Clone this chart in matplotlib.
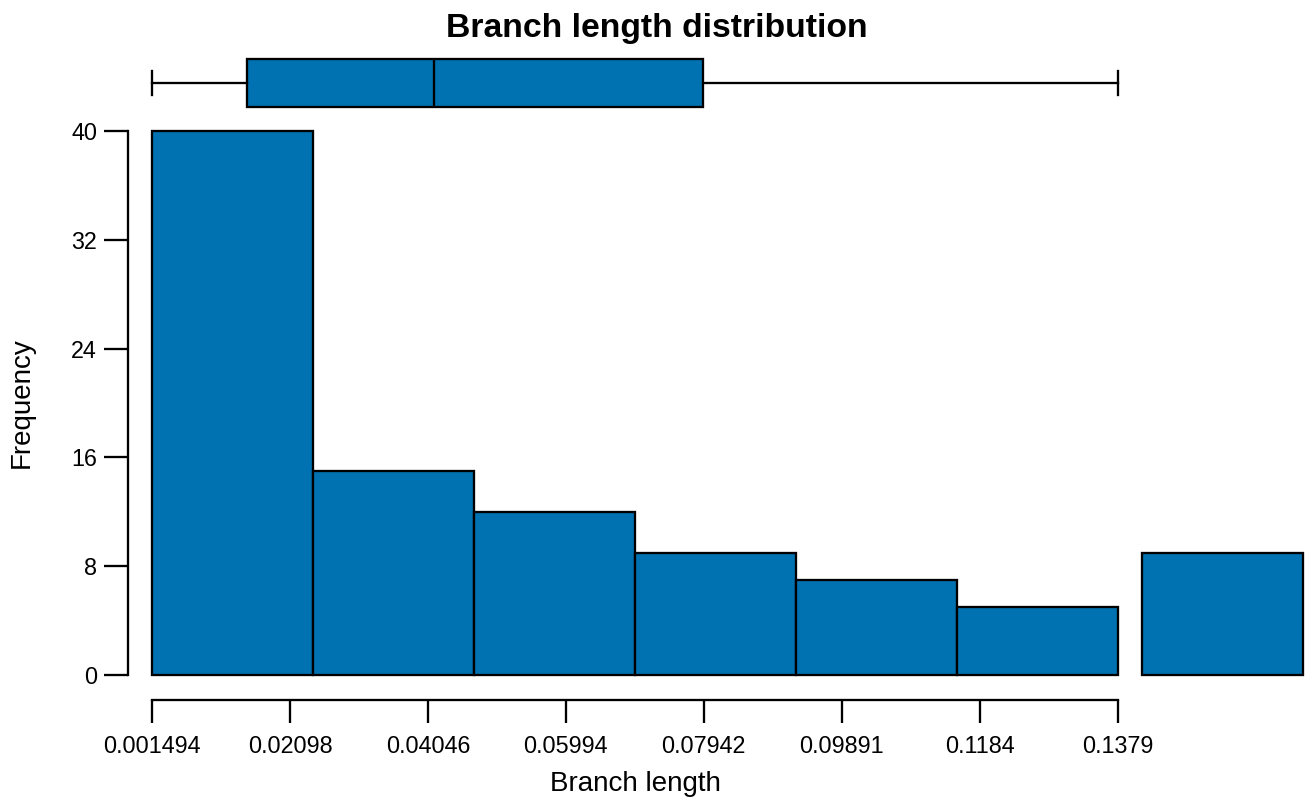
import numpy as np
import matplotlib
matplotlib.use("Agg")
import matplotlib.pyplot as plt

plt.rcParams['font.family'] = ['Liberation Sans', 'DejaVu Sans']

# histogram data
lo = 0.001494
hi = 0.1379
counts = [40, 15, 12, 9, 7, 5]
outlier_count = 9
tick_vals = [0.001494, 0.02098, 0.04046, 0.05994, 0.07942, 0.09891, 0.1184, 0.1379]
tick_labels = ['0.001494', '0.02098', '0.04046', '0.05994', '0.07942', '0.09891', '0.1184', '0.1379']
y_ticks = [0, 8, 16, 24, 32, 40]

# boxplot summary
box_stats = dict(whislo=0.001494, q1=0.0149, med=0.0413, q3=0.0793, whishi=0.1379)

blue = '#0072B2'
W, H = 1306, 798
dpi = 100
px = 72 / dpi  # points per pixel
lw = 2.3 * px

fig = plt.figure(figsize=(W / dpi, H / dpi), dpi=dpi)

edges = np.linspace(lo, hi, len(counts) + 1)
binw = edges[1] - edges[0]
out_left = hi + 0.15 * binw
x_right = out_left + binw

# main histogram axes (pixel layout from reference)
ax = fig.add_axes([152 / W, (H - 675) / H, 1151 / W, 544 / H])
ax.bar(edges[:-1], counts, width=binw, align='edge', color=blue,
       edgecolor='black', linewidth=lw, clip_on=False)
ax.bar([out_left], [outlier_count], width=binw, align='edge', color=blue,
       edgecolor='black', linewidth=lw, clip_on=False)
ax.set_xlim(lo, x_right)
ax.set_ylim(0, 40)

for s in ['top', 'right']:
    ax.spines[s].set_visible(False)
ax.spines['left'].set_position(('outward', 24 * px))
ax.spines['bottom'].set_position(('outward', 25 * px))
ax.spines['left'].set_bounds(0, 40)
ax.spines['bottom'].set_bounds(lo, hi)
for s in ['left', 'bottom']:
    ax.spines[s].set_linewidth(lw)

ax.set_yticks(y_ticks)
ax.set_xticks(tick_vals)
ax.set_xticklabels(tick_labels)
ax.tick_params(axis='y', length=24 * px, width=lw, pad=7 * px, labelsize=16.8)
ax.tick_params(axis='x', length=23 * px, width=lw, pad=12 * px, labelsize=16.8)

# boxplot strip on top
bax = fig.add_axes([152 / W, (H - 107) / H, 1151 / W, 48 / H])
bax.bxp([box_stats], positions=[0], widths=1.0, capwidths=0.5, vert=False,
        showfliers=False, patch_artist=True,
        boxprops=dict(facecolor=blue, edgecolor='black', linewidth=lw),
        medianprops=dict(color='black', linewidth=lw),
        whiskerprops=dict(color='black', linewidth=lw),
        capprops=dict(color='black', linewidth=lw))
bax.set_xlim(lo, x_right)
bax.set_ylim(-0.5, 0.5)
bax.axis('off')
for a in bax.patches + bax.lines:
    a.set_clip_on(False)

fig.text(657 / W, 1 - 28 / H, 'Branch length distribution', ha='center', va='center',
         fontsize=24.3, fontweight='bold')
fig.text(635 / W, 1 - 784 / H, 'Branch length', ha='center', va='center', fontsize=20)
fig.text(22 / W, 1 - 403 / H, 'Frequency', ha='center', va='center', fontsize=20,
         rotation=90)

fig.savefig('out.png', dpi=dpi)
